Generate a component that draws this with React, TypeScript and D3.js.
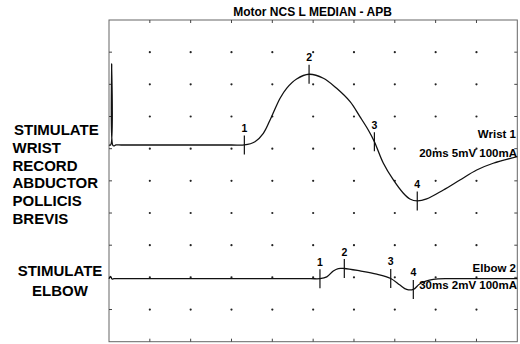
import React from "react";
import * as d3 from "d3";

const title = "Motor NCS L MEDIAN - APB";

// wrist trace: time (ms), amplitude (mV)
const wristTime = [0, 0.08, 0.13, 0.18, 0.24, 0.34, 0.6, 3.0, 6.0, 6.63, 7.15, 7.56, 7.89, 8.38, 8.7, 9.19, 9.8, 10.5, 11.15, 11.81, 12.29, 12.7, 13.0, 13.44, 13.93, 14.42, 14.74, 15.1, 15.56, 16.38, 17.19, 18.01, 18.82, 20];
const wristMv = [0, 0, 12.6, 0, -0.15, 0, 0, 0, 0, 0, 0.51, 1.82, 3.89, 7.26, 8.81, 10.26, 10.99, 10.37, 8.81, 6.73, 4.4, 2.33, 0.51, -2.84, -5.44, -7.51, -8.39, -8.7, -8.39, -6.99, -5.44, -3.89, -2.84, -1.82];
const wristMarkers = [6.63, 9.8, 13.0, 15.1];

// elbow trace
const elbowTime = [0, 0.11, 0.22, 0.37, 0.8, 5.0, 10.0, 14.8, 15.5, 16.0, 16.48, 16.85, 17.29, 18.44, 19.67, 20.7, 21.38, 21.87, 22.36, 22.85, 23.83, 25.05, 27.5, 30];
const elbowMv = [0, 0.14, -0.02, 0, 0, 0, 0, 0, 0, 0.11, 0.48, 0.63, 0.63, 0.48, 0.28, 0.01, -0.4, -0.67, -0.67, -0.32, -0.05, 0, 0, 0];
const elbowMarkers = [15.5, 17.29, 20.7, 22.36];

const markerLabels = ["1", "2", "3", "4"];

const wristSide = ["STIMULATE", "WRIST", "RECORD", "ABDUCTOR", "POLLICIS", "BREVIS"];
const elbowSide = ["STIMULATE", "ELBOW"];
const wristInfo = ["Wrist 1", "20ms 5mV 100mA"];
const elbowInfo = ["Elbow 2", "30ms 2mV 100mA"];

const W = 520;
const H = 344;
const L = 109, R = 517.3, T = 20, B = 341.7;
const font = "'Liberation Sans', Arial, sans-serif";

function Trace({ time, mv, markers, sweep, gain, row }) {
  const x = d3.scaleLinear().domain([0, sweep * 10]).range([L, R]);
  const y = d3.scaleLinear().domain([row * gain, -(10 - row) * gain]).range([T, B]);
  const interp = d3.scaleLinear().domain(time).range(mv);
  const line = d3
    .line<number>()
    .x((_, i) => x(time[i]))
    .y((d) => y(d))
    .curve(d3.curveCatmullRom.alpha(0.5));
  return (
    <g>
      <path d={line(mv) || ""} fill="none" stroke="#111" strokeWidth={1.3} />
      {markers.map((t, i) => {
        const cx = x(t);
        const cy = y(interp(t));
        return (
          <g key={i}>
            <line x1={cx} x2={cx} y1={cy - 9.5} y2={cy + 9.5} stroke="#111" strokeWidth={1.2} />
            <text x={cx} y={cy - 13} textAnchor="middle" fontSize={10.5} fontWeight="bold" fontFamily={font}>
              {markerLabels[i]}
            </text>
          </g>
        );
      })}
    </g>
  );
}

export default function App() {
  const dx = (R - L) / 10;
  const dy = (B - T) / 10;
  const idx = d3.range(1, 10);
  return (
    <svg width={W} height={H} style={{ position: "absolute", left: 0, top: 0, background: "#fff" }}>
      <text x={312.5} y={16} textAnchor="middle" fontSize={12} fontWeight="bold" fontFamily={font}>
        {title}
      </text>
      <rect x={L} y={T} width={R - L} height={B - T} fill="none" stroke="#666" strokeWidth={1} />
      {idx.map((i) => (
        <g key={"e" + i} stroke="#444" strokeWidth={1}>
          <line x1={L + i * dx} x2={L + i * dx} y1={T} y2={T + 3} />
          <line x1={L + i * dx} x2={L + i * dx} y1={B} y2={B - 3} />
          <line x1={L} x2={L + 3} y1={T + i * dy} y2={T + i * dy} />
          <line x1={R} x2={R - 3} y1={T + i * dy} y2={T + i * dy} />
        </g>
      ))}
      {idx.map((i) =>
        idx.map((j) => <circle key={i + "-" + j} cx={L + i * dx} cy={T + j * dy} r={1.1} fill="#222" />)
      )}
      <Trace time={wristTime} mv={wristMv} markers={wristMarkers} sweep={2} gain={5} row={3.885} />
      <Trace time={elbowTime} mv={elbowMv} markers={elbowMarkers} sweep={3} gain={2} row={8.04} />
      <g fontFamily={font} fontWeight="bold" fontSize={11.5} textAnchor="end">
        <text x={516} y={138.3}>{wristInfo[0]}</text>
        <text x={517} y={156.7}>{wristInfo[1]}</text>
        <text x={516} y={272.3}>{elbowInfo[0]}</text>
        <text x={517} y={289}>{elbowInfo[1]}</text>
      </g>
      <g fontFamily={font} fontWeight="bold" fontSize={15}>
        {wristSide.map((s, i) => (
          <text key={s + i} x={i === 0 ? 14 : 12.5} y={135 + i * 17.8}>
            {s}
          </text>
        ))}
        {elbowSide.map((s, i) => (
          <text key={s + i} x={60} y={275.7 + i * 20.3} textAnchor="middle">
            {s}
          </text>
        ))}
      </g>
    </svg>
  );
}
